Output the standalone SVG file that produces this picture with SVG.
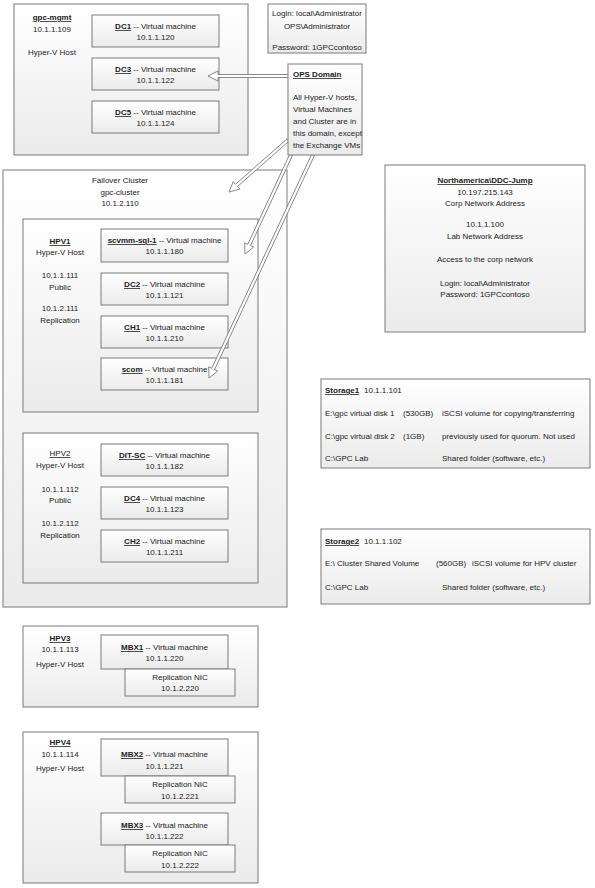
<svg xmlns="http://www.w3.org/2000/svg" width="595" height="888" viewBox="0 0 595 888">
<defs>
<linearGradient id="g" x1="0" y1="0" x2="0" y2="1">
<stop offset="0" stop-color="#ffffff"/>
<stop offset="1" stop-color="#ebebeb"/>
</linearGradient>
<style>
.b{fill:url(#g);stroke:#7a7a7a;stroke-width:1}
text{font-family:"Liberation Sans",Arial,sans-serif;font-size:8px;fill:#222}
.c{text-anchor:middle}
.h{font-weight:bold;text-decoration:underline}
.u{text-decoration:underline}
.a{fill:#ffffff;stroke:#7a7a7a;stroke-width:0.9;stroke-linejoin:miter}
</style>
</defs>
<rect width="595" height="888" fill="#ffffff"/>

<g id="gpc-mgmt">
<rect class="b" x="14" y="4" width="234" height="151"/>
<text class="c h" x="52" y="20">gpc-mgmt</text>
<text class="c" x="52" y="32">10.1.1.109</text>
<text class="c" x="52" y="55">Hyper-V Host</text>
</g>
<g id="DC1">
<rect class="b" x="92" y="15" width="127" height="32"/>
<text class="c" x="155.5" y="29"><tspan class="h">DC1</tspan> -- Virtual machine</text>
<text class="c" x="155.5" y="40">10.1.1.120</text>
</g>
<g id="DC3">
<rect class="b" x="92" y="58" width="127" height="32"/>
<text class="c" x="155.5" y="72"><tspan class="h">DC3</tspan> -- Virtual machine</text>
<text class="c" x="155.5" y="83">10.1.1.122</text>
</g>
<g id="DC5">
<rect class="b" x="92" y="101" width="127" height="32"/>
<text class="c" x="155.5" y="115"><tspan class="h">DC5</tspan> -- Virtual machine</text>
<text class="c" x="155.5" y="126">10.1.1.124</text>
</g>

<g id="login">
<rect class="b" x="268" y="4" width="98" height="49"/>
<text class="c" x="317" y="16">Login: local\Administrator</text>
<text class="c" x="317" y="29">OPS\Administrator</text>
<text class="c" x="317" y="50">Password: 1GPCcontoso</text>
</g>

<g id="failover-cluster">
<rect class="b" x="3" y="170" width="284" height="437"/>
<text class="c" x="120" y="183">Failover Cluster</text>
<text class="c" x="120" y="195">gpc-cluster</text>
<text class="c" x="120" y="206">10.1.2.110</text>
</g>

<g id="HPV1">
<rect class="b" x="23" y="219" width="235" height="193"/>
<text class="c h" x="60" y="244">HPV1</text>
<text class="c" x="60" y="255">Hyper-V Host</text>
<text class="c" x="60" y="278">10.1.1.111</text>
<text class="c" x="60" y="290">Public</text>
<text class="c" x="60" y="311">10.1.2.111</text>
<text class="c" x="60" y="323">Replication</text>
</g>
<g id="scvmm-sql-1">
<rect class="b" x="101" y="229" width="127" height="33"/>
<text class="c" x="164.5" y="243"><tspan class="h">scvmm-sql-1</tspan> -- Virtual machine</text>
<text class="c" x="164.5" y="254">10.1.1.180</text>
</g>
<g id="DC2">
<rect class="b" x="101" y="273" width="127" height="32"/>
<text class="c" x="164.5" y="287"><tspan class="h">DC2</tspan> -- Virtual machine</text>
<text class="c" x="164.5" y="298">10.1.1.121</text>
</g>
<g id="CH1">
<rect class="b" x="101" y="316" width="127" height="32"/>
<text class="c" x="164.5" y="330"><tspan class="h">CH1</tspan> -- Virtual machine</text>
<text class="c" x="164.5" y="341">10.1.1.210</text>
</g>
<g id="scom">
<rect class="b" x="101" y="358" width="127" height="32"/>
<text class="c" x="164.5" y="372"><tspan class="h">scom</tspan> -- Virtual machine</text>
<text class="c" x="164.5" y="383">10.1.1.181</text>
</g>

<g id="HPV2">
<rect class="b" x="23" y="433" width="235" height="150"/>
<text class="c u" x="60" y="456">HPV2</text>
<text class="c" x="60" y="468">Hyper-V Host</text>
<text class="c" x="60" y="492">10.1.1.112</text>
<text class="c" x="60" y="503">Public</text>
<text class="c" x="60" y="526">10.1.2.112</text>
<text class="c" x="60" y="538">Replication</text>
</g>
<g id="DIT-SC">
<rect class="b" x="101" y="444" width="127" height="32"/>
<text class="c" x="164.5" y="458"><tspan class="h">DIT-SC</tspan> -- Virtual machine</text>
<text class="c" x="164.5" y="469">10.1.1.182</text>
</g>
<g id="DC4">
<rect class="b" x="101" y="487" width="127" height="32"/>
<text class="c" x="164.5" y="501"><tspan class="h">DC4</tspan> -- Virtual machine</text>
<text class="c" x="164.5" y="512">10.1.1.123</text>
</g>
<g id="CH2">
<rect class="b" x="101" y="530" width="127" height="32"/>
<text class="c" x="164.5" y="544"><tspan class="h">CH2</tspan> -- Virtual machine</text>
<text class="c" x="164.5" y="555">10.1.1.211</text>
</g>

<g id="ddc-jump">
<rect class="b" x="385" y="165" width="200" height="167"/>
<text class="c h" x="485" y="183">Northamerica\DDC-Jump</text>
<text class="c" x="485" y="195">10.197.215.143</text>
<text class="c" x="485" y="206">Corp Network Address</text>
<text class="c" x="485" y="227">10.1.1.100</text>
<text class="c" x="485" y="239">Lab Network Address</text>
<text class="c" x="485" y="262">Access to the corp network</text>
<text class="c" x="485" y="286">Login: local\Administrator</text>
<text class="c" x="485" y="297">Password: 1GPCcontoso</text>
</g>

<g id="storage1">
<rect class="b" x="321" y="379" width="269" height="89"/>
<text class="h" x="325" y="393">Storage1</text>
<text x="364" y="393">10.1.1.101</text>
<text x="325" y="416">E:\gpc virtual disk 1</text>
<text x="403" y="416">(530GB)</text>
<text x="442" y="416">iSCSI volume for copying/transferring</text>
<text x="325" y="439">C:\gpc virtual disk 2</text>
<text x="403" y="439">(1GB)</text>
<text x="442" y="439">previously used for quorum. Not used</text>
<text x="325" y="461">C:\GPC Lab</text>
<text x="442" y="461">Shared folder (software, etc.)</text>
</g>

<g id="storage2">
<rect class="b" x="321" y="529" width="269" height="75"/>
<text class="h" x="325" y="544">Storage2</text>
<text x="364" y="544">10.1.1.102</text>
<text x="325" y="566">E:\ Cluster Shared Volume</text>
<text x="436" y="566">(560GB)</text>
<text x="472" y="566">iSCSI volume for HPV cluster</text>
<text x="325" y="590">C:\GPC Lab</text>
<text x="442" y="590">Shared folder (software, etc.)</text>
</g>

<g id="HPV3">
<rect class="b" x="23" y="626" width="235" height="81"/>
<text class="c h" x="60" y="641">HPV3</text>
<text class="c" x="60" y="652">10.1.1.113</text>
<text class="c" x="60" y="667">Hyper-V Host</text>
</g>
<g id="MBX1">
<rect class="b" x="101" y="635" width="127" height="34"/>
<text class="c" x="164.5" y="650"><tspan class="h">MBX1</tspan> -- Virtual machine</text>
<text class="c" x="164.5" y="661">10.1.1.220</text>
</g>
<g id="MBX1-nic">
<rect class="b" x="125" y="669" width="110" height="27"/>
<text class="c" x="180" y="680">Replication NIC</text>
<text class="c" x="180" y="691">10.1.2.220</text>
</g>

<g id="HPV4">
<rect class="b" x="23" y="732" width="235" height="151"/>
<text class="c h" x="60" y="745">HPV4</text>
<text class="c" x="60" y="757">10.1.1.114</text>
<text class="c" x="60" y="771">Hyper-V Host</text>
</g>
<g id="MBX2">
<rect class="b" x="101" y="739" width="127" height="37"/>
<text class="c" x="164.5" y="757"><tspan class="h">MBX2</tspan> -- Virtual machine</text>
<text class="c" x="164.5" y="769">10.1.1.221</text>
</g>
<g id="MBX2-nic">
<rect class="b" x="125" y="776" width="110" height="27"/>
<text class="c" x="180" y="787">Replication NIC</text>
<text class="c" x="180" y="799">10.1.2.221</text>
</g>
<g id="MBX3">
<rect class="b" x="101" y="813" width="127" height="32"/>
<text class="c" x="164.5" y="828"><tspan class="h">MBX3</tspan> -- Virtual machine</text>
<text class="c" x="164.5" y="839">10.1.1.222</text>
</g>
<g id="MBX3-nic">
<rect class="b" x="125" y="845" width="110" height="27"/>
<text class="c" x="180" y="856">Replication NIC</text>
<text class="c" x="180" y="868">10.1.2.222</text>
</g>

<g id="connectors">
<polygon class="a" points="290,74.5 218,74.5 218,71 208,76 218,81 218,77.5 290,77.5"/>
<polygon class="a" points="287,138.9 235.5,184.3 233.2,181.6 229,192 239.8,189.2 237.5,186.5 289,141.1"/>
<polygon class="a" points="289.6,154.4 247.8,244.3 244.7,242.8 245,254 253.7,247 250.6,245.5 292.4,155.6"/>
<polygon class="a" points="311.6,154.4 211.8,368.3 208.7,366.8 209,378 217.7,371 214.6,369.5 314.4,155.6"/>
</g>

<g id="ops-domain">
<rect class="b" x="288" y="64" width="74" height="91"/>
<text class="h" x="293" y="77">OPS Domain</text>
<text x="293" y="100">All Hyper-V hosts,</text>
<text x="293" y="112">Virtual Machines</text>
<text x="293" y="124">and Cluster are in</text>
<text x="293" y="136">this domain, except</text>
<text x="293" y="148">the Exchange VMs</text>
</g>
</svg>
